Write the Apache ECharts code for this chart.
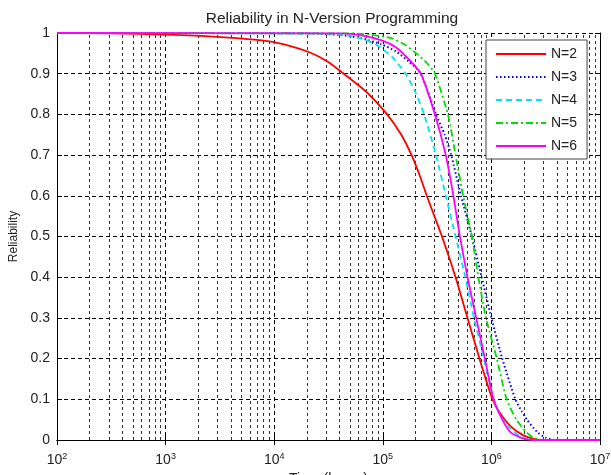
<!DOCTYPE html>
<html>
<head>
<meta charset="utf-8">
<script src="https://cdn.jsdelivr.net/npm/echarts@6/dist/echarts.min.js"></script>
<style>
  html, body { margin: 0; padding: 0; background: #fff; }
  #chart { width: 611px; height: 475px; }
</style>
</head>
<body>
<div id="chart"></div>
<script>
// time axis positions are read as log10(hours) off the picture
const N2_EXP = [2.0, 2.5, 3.0, 3.32, 3.62, 3.94, 4.15, 4.33, 4.49, 4.64, 4.85, 5.04, 5.17, 5.265, 5.34, 5.405, 5.475, 5.545, 5.67, 5.78, 5.89, 6.01, 6.08, 6.18, 6.29, 6.39, 6.50, 7.0];
const N2_REL = [1.0, 0.999, 0.996, 0.993, 0.988, 0.98, 0.968, 0.952, 0.93, 0.90, 0.855, 0.80, 0.75, 0.70, 0.65, 0.60, 0.55, 0.50, 0.40, 0.30, 0.20, 0.10, 0.066, 0.033, 0.012, 0.003, 0.0, 0.0];

const N3_EXP = [2.0, 4.33, 4.61, 4.79, 4.99, 5.12, 5.24, 5.35, 5.49, 5.57, 5.63, 5.72, 5.82, 5.91, 6.00, 6.10, 6.22, 6.28, 6.33, 6.42, 6.50, 6.59, 7.0];
const N3_REL = [1.0, 0.999, 0.995, 0.988, 0.972, 0.955, 0.93, 0.90, 0.80, 0.75, 0.70, 0.60, 0.50, 0.40, 0.30, 0.20, 0.10, 0.07, 0.049, 0.02, 0.006, 0.0, 0.0];

const N4_EXP = [2.0, 4.52, 4.70, 4.84, 4.96, 5.09, 5.21, 5.30, 5.38, 5.49, 5.58, 5.67, 5.76, 5.84, 5.93, 6.02, 6.08, 6.15, 6.24, 6.33, 6.41, 7.0];
const N4_REL = [1.0, 0.998, 0.993, 0.983, 0.968, 0.94, 0.90, 0.855, 0.80, 0.70, 0.60, 0.50, 0.40, 0.30, 0.20, 0.10, 0.06, 0.035, 0.013, 0.003, 0.0, 0.0];

const N5_EXP = [2.0, 4.70, 4.88, 5.07, 5.21, 5.33, 5.41, 5.48, 5.60, 5.67, 5.74, 5.82, 5.88, 5.95, 6.05, 6.14, 6.23, 6.32, 6.39, 6.47, 7.0];
const N5_REL = [1.0, 0.999, 0.996, 0.988, 0.97, 0.945, 0.925, 0.90, 0.80, 0.70, 0.60, 0.50, 0.40, 0.30, 0.20, 0.10, 0.05, 0.02, 0.005, 0.0, 0.0];

const N6_EXP = [2.0, 4.61, 4.79, 4.99, 5.12, 5.24, 5.35, 5.48, 5.58, 5.65, 5.71, 5.78, 5.86, 5.94, 6.02, 6.11, 6.18, 6.27, 6.34, 6.41, 7.0];
const N6_REL = [1.0, 0.999, 0.995, 0.982, 0.965, 0.935, 0.90, 0.80, 0.70, 0.60, 0.50, 0.40, 0.30, 0.20, 0.10, 0.045, 0.018, 0.006, 0.001, 0.0, 0.0];

const SERIES_NAMES = ["N=2", "N=3", "N=4", "N=5", "N=6"];
const DECADES = [1e2, 1e3, 1e4, 1e5, 1e6];
const MINOR_STEPS = [2, 3, 4, 5, 6, 7, 8, 9];

const COLORS = ["#ff0000", "#0000ff", "#00e5ee", "#00dd00", "#ff00ff"];
const DASHES = ["solid", [1.5, 2.5], [6, 4], [7, 3, 2, 3], "solid"];

function toPoints(exps, rels) {
  return exps.map((e, i) => [Math.pow(10, e), rels[i]]);
}

const curves = [
  toPoints(N2_EXP, N2_REL),
  toPoints(N3_EXP, N3_REL),
  toPoints(N4_EXP, N4_REL),
  toPoints(N5_EXP, N5_REL),
  toPoints(N6_EXP, N6_REL),
];

const minorLines = [];
DECADES.forEach((d) => MINOR_STEPS.forEach((k) => minorLines.push({ xAxis: d * k })));

const chart = echarts.init(document.getElementById("chart"), null, { renderer: "canvas" });

const font = "Liberation Sans, Arial, sans-serif";

chart.setOption({
  animation: false,
  backgroundColor: "#ffffff",
  textStyle: { fontFamily: font },
  title: {
    text: "Reliability in N-Version Programming",
    left: 327,
    textAlign: "center",
    top: 6,
    textStyle: { fontSize: 15.5, fontWeight: "normal", color: "#222", fontFamily: font },
  },
  grid: { left: 57, right: 11, top: 33, bottom: 35, containLabel: false, outerBoundsMode: "none" },
  legend: {
    data: SERIES_NAMES,
    orient: "vertical",
    left: 486,
    top: 40,
    padding: [7, 10, 6, 9],
    itemWidth: 50,
    itemHeight: 14,
    itemGap: 9,
    itemTextGap: 7,
    backgroundColor: "#ffffff",
    borderColor: "#444",
    borderWidth: 1,
    borderRadius: 0,
    itemStyle: { opacity: 0 },
    textStyle: { fontSize: 14, color: "#222", fontFamily: font },
  },
  xAxis: [
    {
      type: "log",
      logBase: 10,
      min: 100,
      max: 1e7,
      name: "Time (hours)",
      nameLocation: "middle",
      nameGap: 30,
      nameTextStyle: { fontSize: 14, color: "#222" },
      axisLine: { lineStyle: { color: "#000", width: 1 } },
      axisTick: { inside: true, length: 5, lineStyle: { color: "#000" } },
      axisLabel: {
        margin: 12,
        color: "#222",
        formatter: (v) => "10{sup|" + Math.round(Math.log10(v)) + "}",
        rich: {
          sup: { fontSize: 9, verticalAlign: "top", padding: [0, 0, 8, 0], color: "#222" },
        },
        fontSize: 14,
      },
      splitLine: { show: true, lineStyle: { color: "#000", type: [4, 3], width: 1 } },
    },
    {
      type: "log",
      logBase: 10,
      min: 100,
      max: 1e7,
      position: "top",
      axisLine: { show: true, lineStyle: { color: "#000", width: 1 } },
      axisTick: { inside: true, length: 5, lineStyle: { color: "#000" } },
      axisLabel: { show: false },
      splitLine: { show: false },
    },
  ],
  yAxis: [
    {
      type: "value",
      min: 0,
      max: 1,
      interval: 0.1,
      name: "Reliability",
      nameLocation: "middle",
      nameGap: 25,
      nameTextStyle: { fontSize: 12, color: "#222" },
      axisLine: { show: true, lineStyle: { color: "#000", width: 1 } },
      axisTick: { show: true, inside: true, length: 5, lineStyle: { color: "#000" } },
      axisLabel: { fontSize: 14, color: "#222", margin: 7 },
      splitLine: { show: true, lineStyle: { color: "#000", type: [4, 3], width: 1 } },
    },
    {
      type: "value",
      min: 0,
      max: 1,
      interval: 0.1,
      position: "right",
      axisLine: { show: true, lineStyle: { color: "#000", width: 1 } },
      axisTick: { show: true, inside: true, length: 5, lineStyle: { color: "#000" } },
      axisLabel: { show: false },
      splitLine: { show: false },
    },
  ],
  series: curves.map((points, i) => ({
    name: SERIES_NAMES[i],
    type: "line",
    data: points,
    symbol: "none",
    smooth: 0.2,
    color: COLORS[i],
    lineStyle: { color: COLORS[i], width: i === 1 ? 2 : 1.8, type: DASHES[i] },
    markLine: i === 0 ? {
      silent: true,
      symbol: "none",
      animation: false,
      label: { show: false },
      lineStyle: { color: "#333", type: [3, 3], width: 1 },
      emphasis: { disabled: true },
      data: minorLines,
      z: 1,
    } : undefined,
  })),
});
</script>
</body>
</html>
